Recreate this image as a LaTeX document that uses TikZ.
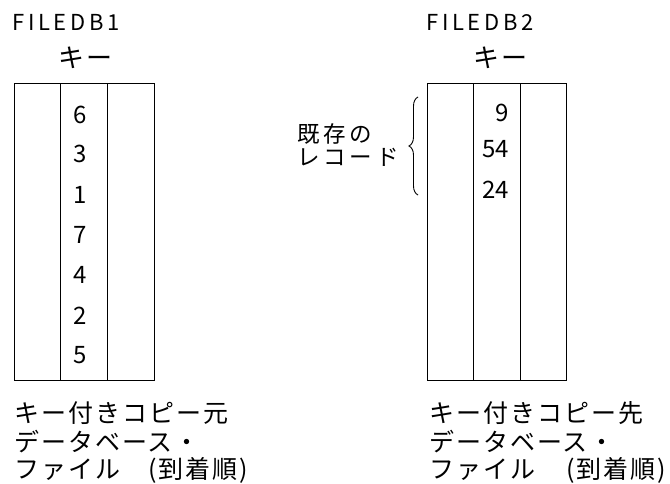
\documentclass[tikz,border=0pt]{standalone}
\usepackage{fontspec}
\setmainfont{Noto Sans CJK JP}
\newfontfamily\jpspaced[LetterSpace=8]{Noto Sans CJK JP}
\newfontfamily\jpwide[LetterSpace=17]{Noto Sans CJK JP}
\newfontfamily\titlefont[LetterSpace=17]{Noto Sans CJK JP}
\usetikzlibrary{decorations.pathreplacing}
\begin{document}
\begin{tikzpicture}[x=1pt,y=-1pt,
  col/.style={draw,line width=1.3pt,minimum height=297pt,inner sep=0pt,anchor=north west},
  title/.style={font=\titlefont\fontsize{22}{22}\selectfont,inner sep=0pt,anchor=west},
  keylbl/.style={font=\jpspaced\fontsize{26}{26}\selectfont,inner sep=0pt,anchor=west},
  num/.style={font=\fontsize{24}{24}\selectfont,inner sep=0pt},
  captxt/.style={font=\jpspaced\fontsize{25}{25}\selectfont,inner sep=0pt,anchor=west},
  bracetxt/.style={font=\jpwide\fontsize{22.5}{22.5}\selectfont,inner sep=0pt,anchor=west},
  brc/.style={draw,line width=0.9pt,decorate,decoration={brace,amplitude=9pt}}]
\useasboundingbox (0,0) rectangle (670,484);
% left file
\node[title] (t1) at (12,22) {FILEDB1};
\node[keylbl] (k1) at (58,58) {キー};
\node[col,minimum width=45.5pt] (a1) at (14,83) {};
\node[col,minimum width=47pt] (a2) at (59.5,83) {};
\node[col,minimum width=47.5pt] (a3) at (106.5,83) {};
\node[num] (n1) at (80,115) {6};
\node[num] (n2) at (80,154) {3};
\node[num] (n3) at (80,195) {1};
\node[num] (n4) at (80,235) {7};
\node[num] (n5) at (80,275) {4};
\node[num] (n6) at (80,316) {2};
\node[num] (n7) at (80,355) {5};
% right file
\node[title] (t2) at (426,22) {FILEDB2};
\node[keylbl] (k2) at (473,58) {キー};
\node[col,minimum width=46pt] (b1) at (427,83) {};
\node[col,minimum width=47pt] (b2) at (473,83) {};
\node[col,minimum width=46pt] (b3) at (520,83) {};
\node[num,anchor=east] (m1) at (509,113) {9};
\node[num,anchor=east] (m2) at (509,149) {54};
\node[num,anchor=east] (m3) at (509,190) {24};
% brace and label
\coordinate (bt) at (418,97);
\coordinate (bb) at (418,195);
\draw[brc] (bb) -- (bt);
\node[bracetxt] (e1) at (297,133.5) {既存の};
\node[bracetxt] (e2) at (297,157) {レコード};
% bottom captions
\node[captxt] (c1) at (14,413) {キー付きコピー元};
\node[captxt] (c2) at (14,442) {データベース・};
\node[captxt] (c3) at (14,470) {ファイル};
\node[captxt] (c4) at (148,470) {(到着順)};
\node[captxt] (d1) at (429,413) {キー付きコピー先};
\node[captxt] (d2) at (429,442) {データベース・};
\node[captxt] (d3) at (429,470) {ファイル};
\node[captxt] (d4) at (566,470) {(到着順)};
\end{tikzpicture}
\end{document}
